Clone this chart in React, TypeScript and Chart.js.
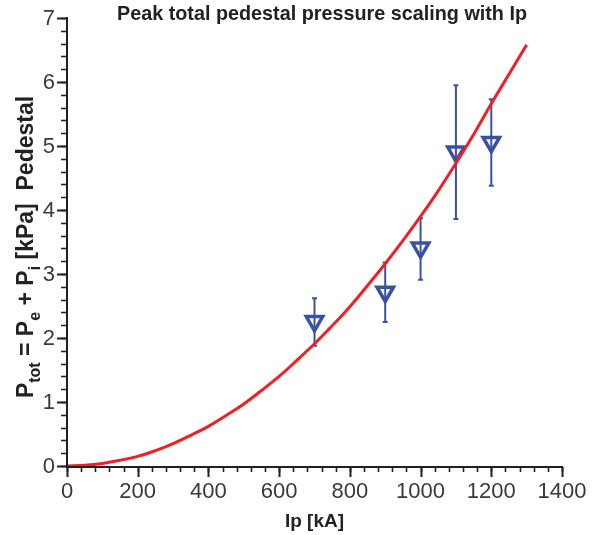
import React, { useEffect, useRef } from "react";
import { Chart, registerables } from "chart.js";
Chart.register(...registerables);

// Fit curve
const fitIp = [0, 50, 100, 150, 200, 250, 300, 350, 400, 450, 500, 550, 600, 650, 700, 750, 800, 850, 900, 950, 1000, 1050, 1100, 1150, 1200, 1250, 1300];
const fitP = [0, 0.01, 0.04, 0.09, 0.15, 0.24, 0.35, 0.48, 0.62, 0.79, 0.97, 1.18, 1.4, 1.65, 1.91, 2.19, 2.49, 2.82, 3.16, 3.52, 3.9, 4.3, 4.73, 5.18, 5.66, 6.12, 6.58];

// Measurements
const measIp = [700, 900, 1000, 1100, 1200];
const measP = [2.26, 2.72, 3.41, 4.91, 5.06];
const errLow = [1.88, 2.25, 2.91, 3.86, 4.38];
const errHigh = [2.62, 3.18, 3.87, 5.95, 5.73];

const xMajorTicks = [0, 200, 400, 600, 800, 1000, 1200, 1400];
const yMajorTicks = [0, 1, 2, 3, 4, 5, 6, 7];
const xMinorStep = 40;
const yMinorStep = 0.2;

const titleText = "Peak total pedestal pressure scaling with Ip";
const xTitleText = "Ip [kA]";
const yTitleParts: [string, boolean][] = [
  ["P", false], ["tot", true], [" = P", false], ["e", true], [" + P", false], ["i", true], [" [kPa]  Pedestal", false],
];

const BLUE = "#3a51a2";
const RED = "#ee1f25";
const AXIS = "#231f20";
const FONT = "'Liberation Sans', Arial, Helvetica, sans-serif";

const decorPlugin = {
  id: "decor",
  beforeDatasetsDraw(chart: any) {
    const ctx = chart.ctx;
    const xs = chart.scales.x;
    const ys = chart.scales.y;
    ctx.save();
    ctx.strokeStyle = BLUE;
    ctx.lineWidth = 2;
    for (let i = 0; i < measIp.length; i++) {
      const px = xs.getPixelForValue(measIp[i]);
      const y1 = ys.getPixelForValue(errLow[i]);
      const y2 = ys.getPixelForValue(errHigh[i]);
      ctx.beginPath();
      ctx.moveTo(px, y1);
      ctx.lineTo(px, y2);
      ctx.stroke();
      ctx.beginPath();
      ctx.moveTo(px - 2.5, y1);
      ctx.lineTo(px + 2.5, y1);
      ctx.moveTo(px - 2.5, y2);
      ctx.lineTo(px + 2.5, y2);
      ctx.stroke();
    }
    ctx.restore();
  },
  afterDraw(chart: any) {
    const ctx = chart.ctx;
    const xs = chart.scales.x;
    const ys = chart.scales.y;
    const x0 = xs.getPixelForValue(0);
    const x1 = xs.getPixelForValue(1400);
    const y0 = ys.getPixelForValue(0);
    const y1 = ys.getPixelForValue(7);
    ctx.save();
    ctx.strokeStyle = AXIS;
    ctx.lineWidth = 2;
    ctx.beginPath();
    ctx.moveTo(x0, y1 - 1);
    ctx.lineTo(x0, y0 + 1);
    ctx.lineTo(x1 + 1, y0 + 1);
    ctx.stroke();
    ctx.lineWidth = 1.6;
    ctx.beginPath();
    for (let v = 0; v <= 1400 + 0.001; v += xMinorStep) {
      const px = Math.round(xs.getPixelForValue(v)) + 0.5;
      ctx.moveTo(px, y0 + 1);
      ctx.lineTo(px, y0 + 6);
    }
    for (let v = 0; v <= 7 + 0.001; v += yMinorStep) {
      const py = Math.round(ys.getPixelForValue(v)) + 0.5;
      ctx.moveTo(x0, py);
      ctx.lineTo(x0 - 6, py);
    }
    ctx.stroke();
    ctx.lineWidth = 2;
    ctx.beginPath();
    for (const v of xMajorTicks) {
      const px = Math.round(xs.getPixelForValue(v)) + 0.5;
      ctx.moveTo(px, y0 + 1);
      ctx.lineTo(px, y0 + 11);
    }
    for (const v of yMajorTicks) {
      const py = Math.round(ys.getPixelForValue(v)) + 0.5;
      ctx.moveTo(x0, py);
      ctx.lineTo(x0 - 10, py);
    }
    ctx.stroke();

    // tick labels
    ctx.fillStyle = "#3a3a3a";
    ctx.font = `22px ${FONT}`;
    ctx.textAlign = "center";
    ctx.textBaseline = "alphabetic";
    for (const v of xMajorTicks) {
      ctx.fillText(String(v), xs.getPixelForValue(v), y0 + 32);
    }
    ctx.textAlign = "right";
    ctx.textBaseline = "middle";
    for (const v of yMajorTicks) {
      ctx.fillText(String(v), x0 - 12, ys.getPixelForValue(v) + 1);
    }

    // title
    ctx.fillStyle = "#222";
    ctx.font = `bold 19.8px ${FONT}`;
    ctx.textAlign = "center";
    ctx.textBaseline = "alphabetic";
    ctx.fillText(titleText, 322, 20);

    // x title
    ctx.font = `bold 19px ${FONT}`;
    ctx.fillText(xTitleText, (x0 + x1) / 2, 527);

    // y title with subscripts (rotated)
    const bigFont = `bold 23px ${FONT}`;
    const subFont = `bold 16px ${FONT}`;
    let total = 0;
    for (const [t, sub] of yTitleParts) {
      ctx.font = sub ? subFont : bigFont;
      total += ctx.measureText(t).width;
    }
    ctx.translate(33, 247);
    ctx.rotate(-Math.PI / 2);
    ctx.textAlign = "left";
    let cx = -total / 2;
    for (const [t, sub] of yTitleParts) {
      ctx.font = sub ? subFont : bigFont;
      ctx.fillText(t, cx, sub ? 7 : 0);
      cx += ctx.measureText(t).width;
    }
    ctx.restore();
  },
};

export default function App() {
  const ref = useRef<HTMLCanvasElement | null>(null);
  useEffect(() => {
    if (!ref.current) return;
    const chart = new Chart(ref.current, {
      type: "scatter",
      data: {
        datasets: [
          {
            label: "fit",
            data: fitIp.map((x, i) => ({ x, y: fitP[i] })),
            showLine: true,
            borderColor: RED,
            borderWidth: 3,
            pointRadius: 0,
            tension: 0.4,
          } as any,
          {
            label: "meas",
            data: measIp.map((x, i) => ({ x, y: measP[i] })),
            pointStyle: "triangle",
            rotation: 180,
            pointRadius: 9.5,
            borderWidth: 3.5,
            borderColor: BLUE,
            backgroundColor: "rgba(0,0,0,0)",
          } as any,
        ],
      },
      options: {
        animation: false,
        responsive: false,
        devicePixelRatio: 1,
        layout: { padding: { left: 67, top: 18, right: 30, bottom: 69 } },
        plugins: { legend: { display: false }, tooltip: { enabled: false }, title: { display: false } },
        scales: {
          x: { type: "linear", min: 0, max: 1400, display: false },
          y: { type: "linear", min: 0, max: 7, display: false },
        },
      },
      plugins: [decorPlugin],
    });
    return () => chart.destroy();
  }, []);
  return (
    <div style={{ position: "absolute", left: 0, top: 0, width: 592, height: 535, background: "#fff" }}>
      <canvas ref={ref} width={592} height={535} style={{ display: "block" }} />
    </div>
  );
}
